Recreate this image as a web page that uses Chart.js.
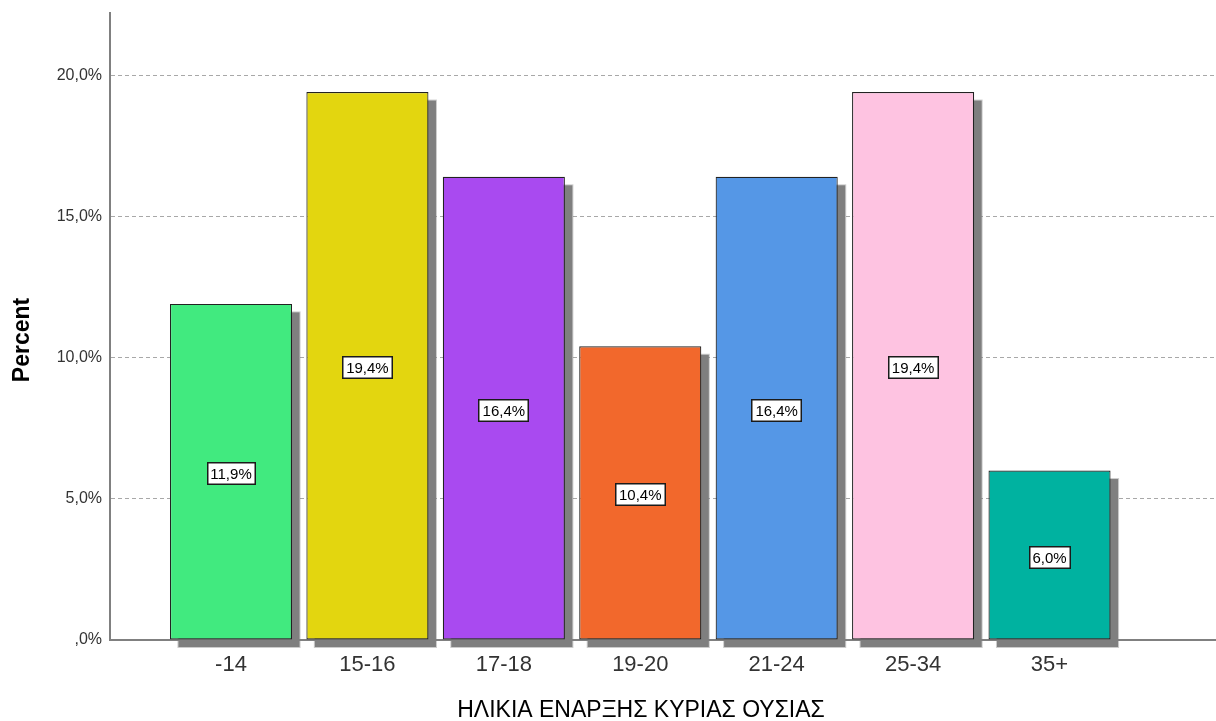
<!DOCTYPE html>
<html>
<head>
<meta charset="utf-8">
<script src="https://cdn.jsdelivr.net/npm/chart.js@4.4.0/dist/chart.umd.min.js"></script>
<style>
html,body{margin:0;padding:0;background:#fff;}
#wrap{width:1216px;height:721px;position:relative;}
</style>
</head>
<body>
<div id="wrap"><canvas id="c" width="1216" height="721"></canvas></div>
<script>
const categories = ["-14", "15-16", "17-18", "19-20", "21-24", "25-34", "35+"];
const percentValues = [11.9, 19.4, 16.4, 10.4, 16.4, 19.4, 6.0];
const barColors = ["#41EA7F", "#E3D60F", "#A94AF0", "#F2682C", "#5597E6", "#FEC3E1", "#00B2A0"];
const yTickValues = [0, 5, 10, 15, 20];
const yTickLabels = [",0%", "5,0%", "10,0%", "15,0%", "20,0%"];
const xTitle = "ΗΛΙΚΙΑ ΕΝΑΡΞΗΣ ΚΥΡΙΑΣ ΟΥΣΙΑΣ";
const yTitle = "Percent";

const FONT = '"Liberation Sans", Arial, sans-serif';
const fmt = v => (v === 0 ? "" : String(Math.floor(v))) + "," + String(Math.round((v * 10) % 10)) + "%";

const shadowPlugin = {
  id: 'shadow',
  beforeDatasetsDraw(chart) {
    const ctx = chart.ctx;
    const meta = chart.getDatasetMeta(0);
    ctx.save();
    meta.data.forEach(el => {
      const p = el.getProps(['x', 'y', 'base', 'width'], true);
      const l = p.x - p.width / 2 + 8, t = p.y + 8, w = p.width, h = p.base - p.y;
      ctx.fillStyle = 'rgba(128,128,128,0.4)';
      ctx.fillRect(l - 0.5, t - 0.5, w + 1, h + 1);
      ctx.fillStyle = '#7f7f7f';
      ctx.fillRect(l + 0.5, t + 0.5, w - 1, h - 1);
    });
    ctx.restore();
  }
};

const labelPlugin = {
  id: 'boxLabels',
  afterDatasetsDraw(chart) {
    const ctx = chart.ctx;
    const meta = chart.getDatasetMeta(0);
    ctx.save();
    ctx.font = '15px ' + FONT;
    ctx.textAlign = 'center';
    ctx.textBaseline = 'middle';
    meta.data.forEach((el, i) => {
      const p = el.getProps(['x', 'y', 'base'], true);
      const txt = fmt(percentValues[i]);
      const tw = ctx.measureText(txt).width;
      const cy = Math.round((p.y + p.base) / 2 + 1.5);
      const bw = Math.round(tw + 8), bh = 23;
      const bx = Math.round(p.x - bw / 2);
      const by = Math.round(cy - bh / 2);
      ctx.fillStyle = '#fff';
      ctx.fillRect(bx, by, bw, bh);
      ctx.strokeStyle = '#1a1a1a';
      ctx.lineWidth = 1.5;
      ctx.strokeRect(bx + 0.75, by + 0.75, bw - 1.5, bh - 1.5);
      ctx.fillStyle = '#000';
      ctx.fillText(txt, p.x, by + bh / 2 + 1);
    });
    ctx.restore();
  }
};

const titlePlugin = {
  id: 'axisTitles',
  afterDraw(chart) {
    const ctx = chart.ctx;
    ctx.save();
    ctx.fillStyle = '#000';
    ctx.textAlign = 'center';
    ctx.textBaseline = 'middle';
    ctx.font = '23px ' + FONT;
    ctx.fillText(xTitle, 641, 711);
    ctx.translate(23, 340);
    ctx.rotate(-Math.PI / 2);
    ctx.font = 'bold 23px ' + FONT;
    ctx.fillText(yTitle, 0, 0);
    ctx.restore();
  }
};

new Chart(document.getElementById('c'), {
  type: 'bar',
  data: {
    datasets: [{
      data: percentValues.map((v, i) => ({ x: i, y: v })),
      backgroundColor: barColors,
      borderColor: '#222222',
      borderWidth: 1.2,
      borderSkipped: false,
      barPercentage: 0.895,
      categoryPercentage: 1.0
    }]
  },
  plugins: [shadowPlugin, labelPlugin, titlePlugin],
  options: {
    responsive: false,
    animation: false,
    devicePixelRatio: 1,
    layout: { padding: { top: 13, right: 1, left: 0, bottom: 0 } },
    plugins: { legend: { display: false }, tooltip: { enabled: false } },
    scales: {
      x: {
        type: 'linear',
        min: -0.887,
        max: 7.213,
        offset: false,
        grid: { display: false, drawTicks: false },
        border: { display: true, color: '#808080', width: 2 },
        afterBuildTicks(scale) { scale.ticks = categories.map((c, i) => ({ value: i })); },
        afterFit(scale) { scale.height = 81; scale.paddingLeft = 0; scale.paddingRight = 0; },
        ticks: {
          padding: 12,
          color: '#333',
          font: { family: FONT, size: 22 },
          callback: (v) => categories[v] !== undefined ? categories[v] : ''
        },
        title: { display: false }
      },
      y: {
        min: 0,
        max: 22.2,
        grid: {
          color: ctx => (ctx.tick && ctx.tick.value === 0) ? 'rgba(0,0,0,0)' : '#a8a8a8',
          drawTicks: false,
          lineWidth: 1
        },
        border: { display: true, color: '#808080', width: 2, dash: [4, 3] },
        afterBuildTicks(scale) { scale.ticks = yTickValues.map(v => ({ value: v })); },
        afterFit(scale) { scale.width = 110; scale.paddingTop = 0; scale.paddingBottom = 0; },
        ticks: {
          padding: 8,
          color: '#333',
          font: { family: FONT, size: 16 },
          callback: (v) => { const i = yTickValues.indexOf(v); return i >= 0 ? yTickLabels[i] : ''; }
        },
        title: { display: false }
      }
    }
  }
});
</script>
</body>
</html>
